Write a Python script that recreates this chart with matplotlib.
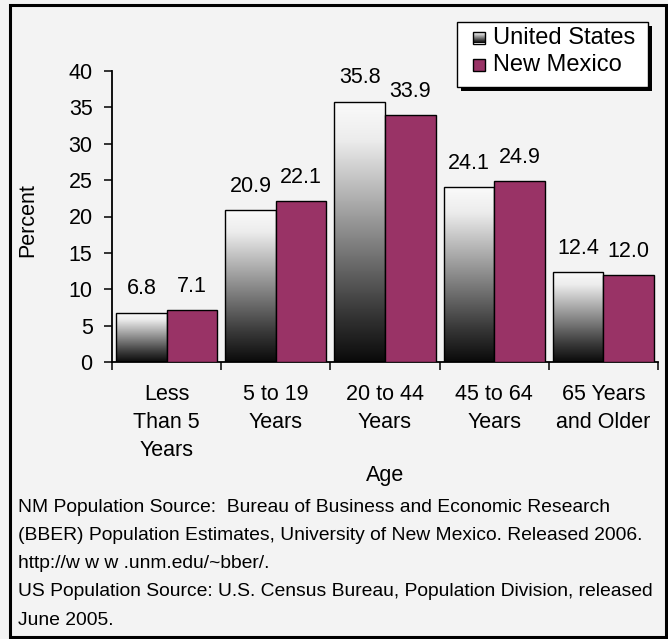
import numpy as np
import matplotlib
matplotlib.use('Agg')
import matplotlib.pyplot as plt
from matplotlib.patches import Rectangle
from matplotlib.colors import LinearSegmentedColormap
from matplotlib import transforms

categories = ['Less\nThan 5\nYears', '5 to 19\nYears', '20 to 44\nYears',
              '45 to 64\nYears', '65 Years\nand Older']
us_values = [6.8, 20.9, 35.8, 24.1, 12.4]
nm_values = [7.1, 22.1, 33.9, 24.9, 12.0]
series_names = ['United States', 'New Mexico']
footnote = ['NM Population Source:  Bureau of Business and Economic Research',
            '(BBER) Population Estimates, University of New Mexico. Released 2006.',
            'http://w w w .unm.edu/~bber/.',
            'US Population Source: U.S. Census Bureau, Population Division, released',
            'June 2005.']

plt.rcParams['font.family'] = ['Liberation Sans', 'DejaVu Sans']
BG = '#f3f3f3'
NM_COLOR = '#993366'
W, H = 668, 639
FS = 15.5

grad_cmap = LinearSegmentedColormap.from_list(
    'bargrad', [(0, '#0a0a0a'), (0.2, '#3a3a3a'), (0.55, '#9a9a9a'),
                (0.85, '#ececec'), (1, '#fbfbfb')])


def px(xp, yp):
    # pixel position (from top-left) -> figure fraction
    return xp / W, 1 - yp / H


fig = plt.figure(figsize=(W / 100, H / 100), dpi=100)
fig.patch.set_facecolor(BG)
ax = fig.add_axes([112 / W, 1 - 362 / H, (658 - 112) / W, (362 - 71) / H])
ax.set_facecolor(BG)

x = np.arange(len(categories)) + 0.5
bw = 0.463
us_bars = ax.bar(x - bw / 2, us_values, bw, facecolor='none', edgecolor='black',
                 lw=1.0, zorder=3)
nm_bars = ax.bar(x + bw / 2, nm_values, bw, color=NM_COLOR, edgecolor='black',
                 lw=1.0, zorder=3)

# gradient fill for the US bars
grad = np.linspace(0, 1, 256).reshape(-1, 1)
for b in us_bars:
    x0, y0 = b.get_x(), b.get_y()
    im = ax.imshow(grad, cmap=grad_cmap, aspect='auto', origin='lower',
                   extent=(x0, x0 + b.get_width(), y0, y0 + b.get_height()),
                   zorder=2)
    im.set_clip_path(b)

for bars, vals in [(us_bars, us_values), (nm_bars, nm_values)]:
    for b, v in zip(bars, vals):
        ax.annotate(f'{v:.1f}', (b.get_x() + b.get_width() / 2, v),
                    xytext=(0, 13), textcoords='offset points',
                    ha='center', va='baseline', fontsize=FS)

ax.set_xlim(0, len(categories))
ax.set_ylim(0, 40)
ax.set_yticks(range(0, 41, 5))
ax.set_xticks(range(len(categories) + 1))
ax.set_xticklabels([])
ax.tick_params(axis='y', labelsize=FS, length=6, width=1.1, pad=8, direction='out')
ax.tick_params(axis='x', length=6, width=1.1, direction='out')
for s in ['top', 'right']:
    ax.spines[s].set_visible(False)
for s in ['left', 'bottom']:
    ax.spines[s].set_linewidth(1.3)

tr = transforms.blended_transform_factory(ax.transData, fig.transFigure)
for xi, lab in zip(x, categories):
    ax.text(xi, 1 - 384 / H, lab, transform=tr, ha='center', va='top',
            fontsize=FS, linespacing=1.45)

fig.text(*px(385, 476), 'Age', ha='center', va='center', fontsize=FS)
fig.text(*px(28, 220), 'Percent', ha='center', va='center',
         rotation=90, fontsize=FS)

for i, line in enumerate(footnote):
    fig.text(*px(18, 507 + 28.3 * i), line, ha='left', va='center', fontsize=13.9)

# legend drawn by hand: shadow, box, swatches, labels
lx0, ly0, lx1, ly1 = 457, 22, 648, 87
fig.patches.append(Rectangle(px(lx0 + 4, ly1 + 4), (lx1 - lx0) / W, (ly1 - ly0) / H,
                             transform=fig.transFigure, facecolor='black',
                             edgecolor='black', lw=0))
fig.patches.append(Rectangle(px(lx0, ly1), (lx1 - lx0) / W, (ly1 - ly0) / H,
                             transform=fig.transFigure, facecolor='white',
                             edgecolor='black', lw=1.0))
row_y = [38, 65]
sw = 12
n = 12
for i in range(n):
    fig.patches.append(Rectangle(px(473, row_y[0] + sw / 2 - sw * (i + 1) / n),
                                 sw / W, sw / n / H, transform=fig.transFigure,
                                 facecolor=grad_cmap(i / (n - 1)), lw=0))
fig.patches.append(Rectangle(px(473, row_y[0] + sw / 2), sw / W, sw / H,
                             transform=fig.transFigure, fill=False,
                             edgecolor='black', lw=1.0))
fig.patches.append(Rectangle(px(473, row_y[1] + sw / 2), sw / W, sw / H,
                             transform=fig.transFigure, facecolor=NM_COLOR,
                             edgecolor='black', lw=1.0))
for yy, name in zip(row_y, series_names):
    fig.text(*px(493, yy), name, ha='left', va='center', fontsize=17)

fig.patches.append(Rectangle(px(10, 637), 656 / W, 632 / H,
                             transform=fig.transFigure, fill=False,
                             edgecolor='black', lw=2.2))

fig.savefig('out.png', dpi=100, facecolor=BG)
